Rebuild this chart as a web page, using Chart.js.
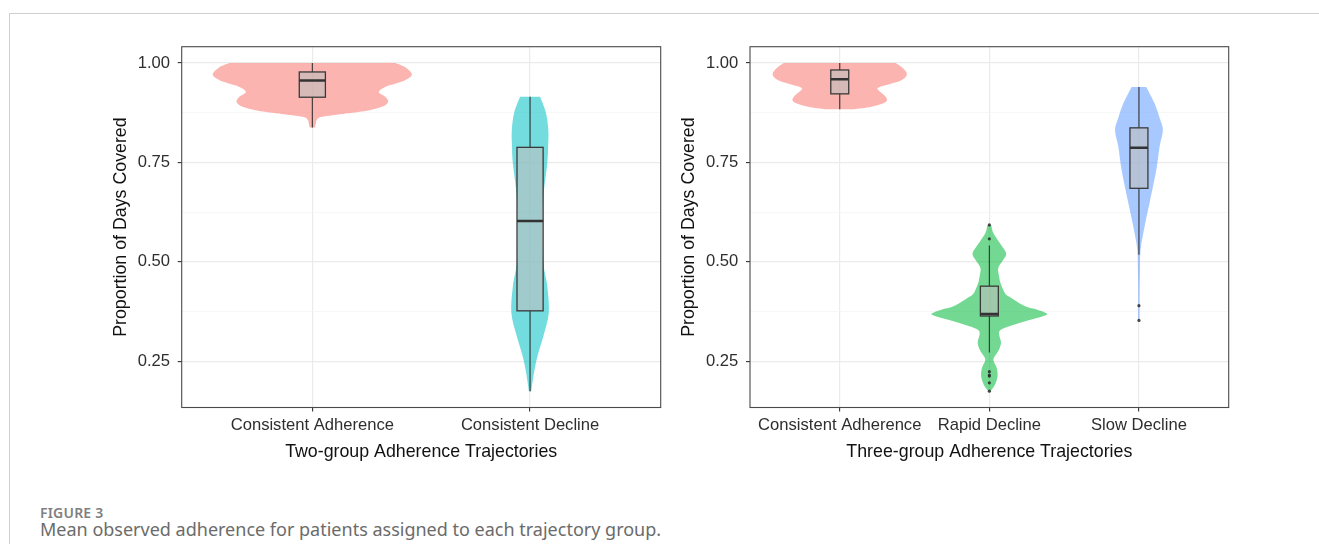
<!DOCTYPE html>
<html>
<head>
<meta charset="utf-8">
<script src="https://cdn.jsdelivr.net/npm/chart.js@4.4.1/dist/chart.umd.min.js"></script>
<style>
  html, body { margin: 0; padding: 0; background: #fff; }
  body { width: 1319px; height: 544px; position: relative; overflow: hidden; }
  .frame { position: absolute; left: 9px; top: 13px; width: 1310px; height: 531px;
           border-top: 1px solid #cfcfcf; border-left: 1px solid #cfcfcf; }
  canvas { position: absolute; top: 0; }
  #twoGroup { left: 0; }
  #threeGroup { left: 660px; }
  .fig-label { position: absolute; left: 40px; top: 503px; font: 600 14px "Noto Sans", sans-serif;
               color: #808080; letter-spacing: 0.2px; }
  .fig-caption { position: absolute; left: 40px; top: 517px; font: 400 18px "Noto Sans", sans-serif;
                 color: #6b6b6b; white-space: nowrap; }
</style>
</head>
<body>
<div class="frame"></div>
<canvas id="twoGroup" width="680" height="470"></canvas>
<canvas id="threeGroup" width="659" height="470"></canvas>
<div class="fig-label">FIGURE 3</div>
<div class="fig-caption">Mean observed adherence for patients assigned to each trajectory group.</div>

<script>
// ===================================
// DATA
// ===================================

const yMajorTicks = [0.25, 0.50, 0.75, 1.00];
const yMinorTicks = [0.375, 0.625, 0.875];

// --- Two-group panel ---
const twoGroupCategories = ['Consistent Adherence', 'Consistent Decline'];

// violin outline: level on y, half width of the violin (in category units)
const twoAdherenceLevels = [1.000, 0.990, 0.975, 0.965, 0.952, 0.940, 0.927, 0.915, 0.902, 0.890, 0.880, 0.872, 0.865, 0.858, 0.850, 0.838];
const twoAdherenceWidths = [0.380, 0.425, 0.455, 0.450, 0.405, 0.335, 0.305, 0.335, 0.348, 0.320, 0.250, 0.140, 0.045, 0.022, 0.017, 0.012];
const twoDeclineLevels = [0.915, 0.875, 0.831, 0.790, 0.748, 0.664, 0.580, 0.497, 0.439, 0.372, 0.313, 0.263, 0.221, 0.175];
const twoDeclineWidths = [0.046, 0.073, 0.084, 0.083, 0.079, 0.061, 0.056, 0.061, 0.079, 0.086, 0.061, 0.034, 0.018, 0.005];

// box plot summaries
const twoGroupLower = [0.838, 0.175];
const twoGroupQ1 = [0.914, 0.377];
const twoGroupMedian = [0.956, 0.603];
const twoGroupQ3 = [0.9775, 0.788];
const twoGroupUpper = [1.000, 0.915];
const twoGroupOutlierCategory = [];
const twoGroupOutlierValue = [];

// --- Three-group panel ---
const threeGroupCategories = ['Consistent Adherence', 'Rapid Decline', 'Slow Decline'];

const threeAdherenceLevels = [1.000, 0.985, 0.970, 0.955, 0.940, 0.932, 0.915, 0.902, 0.890, 0.884];
const threeAdherenceWidths = [0.374, 0.428, 0.448, 0.401, 0.267, 0.258, 0.307, 0.307, 0.212, 0.097];
const threeRapidLevels = [0.593, 0.572, 0.547, 0.522, 0.506, 0.485, 0.464, 0.443, 0.420, 0.4095, 0.3885, 0.380, 0.3695, 0.362, 0.355, 0.343, 0.330, 0.318, 0.297, 0.276, 0.255, 0.234, 0.213, 0.192, 0.175];
const threeRapidWidths = [0.013, 0.027, 0.071, 0.112, 0.094, 0.060, 0.065, 0.078, 0.107, 0.147, 0.240, 0.321, 0.387, 0.347, 0.281, 0.174, 0.080, 0.065, 0.078, 0.060, 0.027, 0.049, 0.055, 0.038, 0.007];
const threeSlowLevels = [0.940, 0.898, 0.860, 0.831, 0.790, 0.731, 0.648, 0.589, 0.531, 0.480, 0.420, 0.355];
const threeSlowWidths = [0.049, 0.105, 0.140, 0.160, 0.138, 0.116, 0.071, 0.038, 0.011, 0.007, 0.005, 0.005];

const threeGroupLower = [0.884, 0.272, 0.518];
const threeGroupQ1 = [0.9225, 0.364, 0.685];
const threeGroupMedian = [0.959, 0.369, 0.787];
const threeGroupQ3 = [0.9825, 0.439, 0.837];
const threeGroupUpper = [1.000, 0.541, 0.940];
const threeGroupOutlierCategory = ['Rapid Decline', 'Rapid Decline', 'Rapid Decline', 'Rapid Decline', 'Rapid Decline', 'Rapid Decline', 'Rapid Decline', 'Slow Decline', 'Slow Decline'];
const threeGroupOutlierValue = [0.593, 0.558, 0.224, 0.2155, 0.213, 0.196, 0.175, 0.390, 0.353];

// ===================================
// STYLE
// ===================================

const Y_MIN = 0.134;
const Y_MAX = 1.041;
const BOX_WIDTH = 0.12;
const VIOLIN_ALPHA = 0.55;
const TICK_FONT = { family: '"Liberation Sans", Arial, sans-serif', size: 16.6 };
const TITLE_FONT = { family: '"Liberation Sans", Arial, sans-serif', size: 17.8 };

function withAlpha(hex, a) {
    const n = parseInt(hex.slice(1), 16);
    return `rgba(${(n >> 16) & 255}, ${(n >> 8) & 255}, ${n & 255}, ${a})`;
}

// Catmull-Rom through the points as bezier segments
function smoothThrough(ctx, pts) {
    for (let i = 0; i < pts.length - 1; i++) {
        const p0 = pts[i - 1] || pts[i];
        const p1 = pts[i];
        const p2 = pts[i + 1];
        const p3 = pts[i + 2] || p2;
        ctx.bezierCurveTo(
            p1[0] + (p2[0] - p0[0]) / 6, p1[1] + (p2[1] - p0[1]) / 6,
            p2[0] - (p3[0] - p1[0]) / 6, p2[1] - (p3[1] - p1[1]) / 6,
            p2[0], p2[1]
        );
    }
}

// ===================================
// VIOLIN + BOX LAYER (drawn through the chart's scales)
// ===================================

function violinLayer(panel) {
    return {
        id: 'violinLayer',
        beforeDatasetsDraw(chart) {
            const ctx = chart.ctx;
            const xs = chart.scales.x;
            const ys = chart.scales.y;
            const area = chart.chartArea;
            ctx.save();
            ctx.beginPath();
            ctx.rect(area.left, area.top, area.right - area.left, area.bottom - area.top);
            ctx.clip();

            // violins
            panel.violins.forEach((v, i) => {
                const cx = i + 1;
                const right = v.levels.map((lv, k) => [xs.getPixelForValue(cx + v.widths[k]), ys.getPixelForValue(lv)]);
                const left = v.levels.map((lv, k) => [xs.getPixelForValue(cx - v.widths[k]), ys.getPixelForValue(lv)]).reverse();
                ctx.beginPath();
                ctx.moveTo(right[0][0], right[0][1]);
                smoothThrough(ctx, right);
                ctx.lineTo(left[0][0], left[0][1]);
                smoothThrough(ctx, left);
                ctx.closePath();
                ctx.fillStyle = withAlpha(panel.colors[i], VIOLIN_ALPHA);
                ctx.fill();
            });

            // boxes
            panel.categories.forEach((c, i) => {
                const cx = i + 1;
                const px = xs.getPixelForValue(cx);
                const x0 = xs.getPixelForValue(cx - BOX_WIDTH / 2);
                const x1 = xs.getPixelForValue(cx + BOX_WIDTH / 2);
                const yLo = ys.getPixelForValue(panel.lower[i]);
                const yQ1 = ys.getPixelForValue(panel.q1[i]);
                const yMed = ys.getPixelForValue(panel.median[i]);
                const yQ3 = ys.getPixelForValue(panel.q3[i]);
                const yHi = ys.getPixelForValue(panel.upper[i]);

                ctx.strokeStyle = '#333333';
                ctx.lineWidth = 1.1;
                ctx.beginPath();
                ctx.moveTo(px, yHi); ctx.lineTo(px, yQ3);
                ctx.moveTo(px, yQ1); ctx.lineTo(px, yLo);
                ctx.stroke();

                ctx.fillStyle = 'rgba(190, 190, 190, 0.6)';
                ctx.fillRect(x0, yQ3, x1 - x0, yQ1 - yQ3);
                ctx.lineWidth = 1.3;
                ctx.strokeStyle = '#3a3a3a';
                ctx.strokeRect(x0, yQ3, x1 - x0, yQ1 - yQ3);

                ctx.lineWidth = 2.6;
                ctx.strokeStyle = '#333333';
                ctx.beginPath();
                ctx.moveTo(x0, yMed); ctx.lineTo(x1, yMed);
                ctx.stroke();
            });
            ctx.restore();
        },
        afterDraw(chart) {
            const a = chart.chartArea;
            const ctx = chart.ctx;
            ctx.save();
            ctx.strokeStyle = '#4a4a4a';
            ctx.lineWidth = 1.1;
            ctx.strokeRect(a.left, a.top, a.right - a.left, a.bottom - a.top);
            ctx.restore();
        }
    };
}

// ===================================
// PANEL BUILDER
// ===================================

function buildPanel(canvasId, panel, padding) {
    const cats = panel.categories;
    const outliers = panel.outlierValue.map((v, k) => ({ x: cats.indexOf(panel.outlierCategory[k]) + 1, y: v }));
    const yAll = [...yMajorTicks, ...yMinorTicks].sort((a, b) => a - b);
    const isMajor = v => yMajorTicks.some(t => Math.abs(t - v) < 1e-6);

    return new Chart(document.getElementById(canvasId), {
        type: 'scatter',
        data: {
            datasets: [{
                data: outliers,
                pointRadius: 1.6,
                pointBackgroundColor: 'rgba(40, 40, 40, 0.85)',
                pointBorderWidth: 0
            }]
        },
        options: {
            responsive: false,
            animation: false,
            devicePixelRatio: 1,
            layout: { padding: padding },
            plugins: { legend: { display: false }, tooltip: { enabled: false } },
            scales: {
                x: {
                    type: 'linear',
                    min: 0.4,
                    max: cats.length + 0.6,
                    afterBuildTicks: s => { s.ticks = cats.map((c, i) => ({ value: i + 1 })); },
                    afterFit: s => { s.height = 62.5; },
                    ticks: {
                        callback: v => cats[Math.round(v) - 1],
                        font: TICK_FONT,
                        color: '#2e2e2e',
                        padding: 3.5,
                        maxRotation: 0,
                        autoSkip: false
                    },
                    grid: {
                        color: '#ebebeb',
                        lineWidth: 1.2,
                        tickColor: '#333333',
                        tickLength: 4,
                        tickWidth: 1.1
                    },
                    border: { display: false },
                    title: {
                        display: true,
                        text: panel.xTitle,
                        font: TITLE_FONT,
                        color: '#111111',
                        padding: { top: 0, bottom: 7.2 }
                    }
                },
                y: {
                    min: Y_MIN,
                    max: Y_MAX,
                    afterBuildTicks: s => { s.ticks = yAll.map(v => ({ value: v })); },
                    afterFit: s => { s.width = 81.7; },
                    ticks: {
                        callback: v => isMajor(v) ? v.toFixed(2) : '',
                        font: TICK_FONT,
                        color: '#2e2e2e',
                        padding: 7.7,
                        autoSkip: false
                    },
                    grid: {
                        color: c => isMajor(c.tick.value) ? '#ebebeb' : '#f4f4f4',
                        lineWidth: c => isMajor(c.tick.value) ? 1.2 : 0.7,
                        tickColor: c => isMajor(c.tick.value) ? '#333333' : 'rgba(0,0,0,0)',
                        tickLength: 4,
                        tickWidth: 1.1
                    },
                    border: { display: false },
                    title: {
                        display: true,
                        text: 'Proportion of Days Covered',
                        font: TITLE_FONT,
                        color: '#111111',
                        padding: { top: 10.2, bottom: 0 }
                    }
                }
            }
        },
        plugins: [violinLayer(panel)]
    });
}

buildPanel('twoGroup', {
    categories: twoGroupCategories,
    colors: ['#F8766D', '#00BFC4'],
    violins: [
        { levels: twoAdherenceLevels, widths: twoAdherenceWidths },
        { levels: twoDeclineLevels, widths: twoDeclineWidths }
    ],
    lower: twoGroupLower, q1: twoGroupQ1, median: twoGroupMedian, q3: twoGroupQ3, upper: twoGroupUpper,
    outlierCategory: twoGroupOutlierCategory, outlierValue: twoGroupOutlierValue,
    xTitle: 'Two-group Adherence Trajectories'
}, { left: 100, right: 19.3, top: 46.7, bottom: 0 });

buildPanel('threeGroup', {
    categories: threeGroupCategories,
    colors: ['#F8766D', '#00BA38', '#619CFF'],
    violins: [
        { levels: threeAdherenceLevels, widths: threeAdherenceWidths },
        { levels: threeRapidLevels, widths: threeRapidWidths },
        { levels: threeSlowLevels, widths: threeSlowWidths }
    ],
    lower: threeGroupLower, q1: threeGroupQ1, median: threeGroupMedian, q3: threeGroupQ3, upper: threeGroupUpper,
    outlierCategory: threeGroupOutlierCategory, outlierValue: threeGroupOutlierValue,
    xTitle: 'Three-group Adherence Trajectories'
}, { left: 8.3, right: 90.3, top: 46.7, bottom: 0 });
</script>
</body>
</html>
